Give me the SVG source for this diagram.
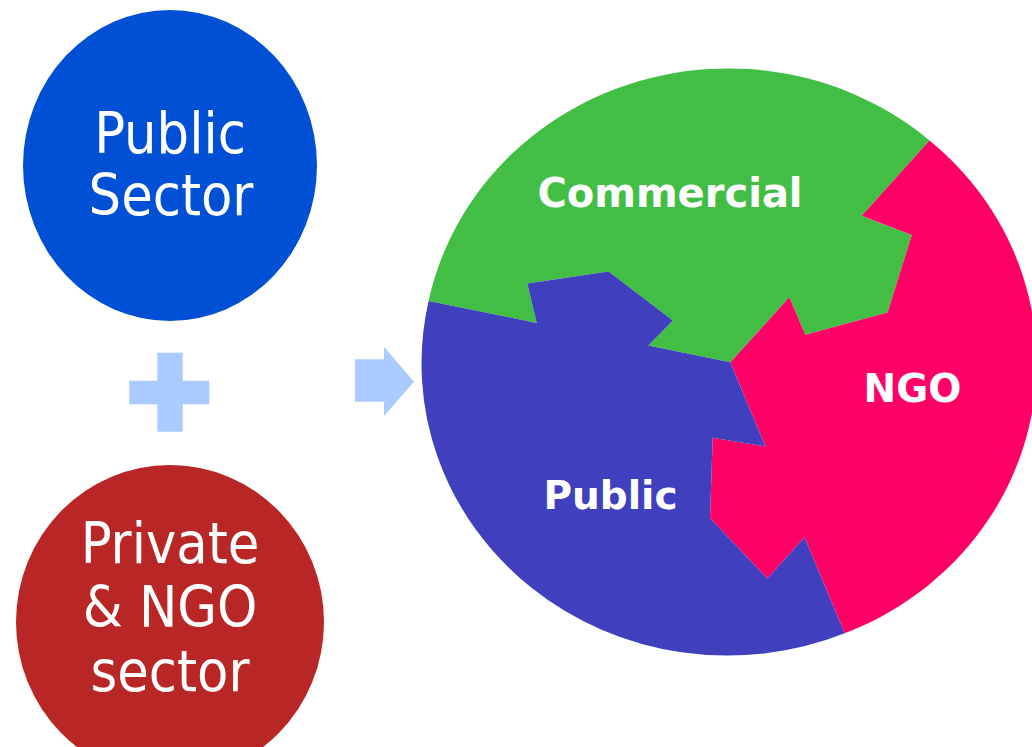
<svg xmlns="http://www.w3.org/2000/svg" width="1032" height="747" viewBox="0 0 1032 747">
<style>
.lbl{font-family:"DejaVu Sans Condensed","DejaVu Sans",sans-serif;font-size:57px;fill:#fff;text-anchor:middle}
.pie{font-family:"DejaVu Sans","Verdana",sans-serif;font-weight:bold;font-size:39px;fill:#fff;text-anchor:middle}
.sym{fill:#AACBFF}
</style>
<rect width="1032" height="747" fill="#fff"/>
<g id="public-sector">
<ellipse cx="170" cy="165.5" rx="147" ry="155.5" fill="#0050D6"/>
<text class="lbl" x="170" y="153">Public</text>
<text class="lbl" x="171" y="215">Sector</text>
</g>
<g id="plus">
<rect class="sym" x="157.3" y="352.7" width="25.4" height="79"/>
<rect class="sym" x="129.3" y="380.7" width="80" height="23.6"/>
</g>
<g id="private-ngo-sector">
<ellipse cx="170" cy="622" rx="154" ry="157" fill="#B92626"/>
<text class="lbl" x="170" y="563">Private</text>
<text class="lbl" x="170" y="627">&amp; NGO</text>
<text class="lbl" x="170" y="691">sector</text>
</g>
<g id="connectors">
<polygon class="sym" points="355,359.3 384,359.3 384,346.7 414,381.7 384,416 384,401.7 355,401.7"/>
</g>
<g id="commercial">
<path fill="#42BE45" d="M428.6,301.1 A306,292 0 0 1 929.4,140.4 L861.8,215.8 L911.8,234.9 L887.6,312.6 L805.3,334.8 L789.3,297.3 L730.3,362.3 L648.3,345.5 L672.9,320.6 L608.5,271.6 L527.3,283.5 L536.7,322.9 Z"/>
<text class="pie" x="670" y="207" style="font-size:40px">Commercial</text>
</g>
<g id="ngo">
<path fill="#FF0066" d="M929.4,140.4 A306,292 0 0 1 844.7,633.3 L804.5,537.2 L767.4,578.6 L710,518.1 L712.7,437.7 L765.4,446.5 L730.3,362.3 L789.3,297.3 L805.3,334.8 L887.6,312.6 L911.8,234.9 L861.8,215.8 Z"/>
<text class="pie" x="912.5" y="402.3">NGO</text>
</g>
<g id="public">
<path fill="#4040BE" d="M844.7,633.3 A306,292 0 0 1 428.6,301.1 L536.7,322.9 L527.3,283.5 L608.5,271.6 L672.9,320.6 L648.3,345.5 L730.3,362.3 L765.4,446.5 L712.7,437.7 L710,518.1 L767.4,578.6 L804.5,537.2 Z"/>
<text class="pie" x="610.5" y="509">Public</text>
</g>
</svg>
